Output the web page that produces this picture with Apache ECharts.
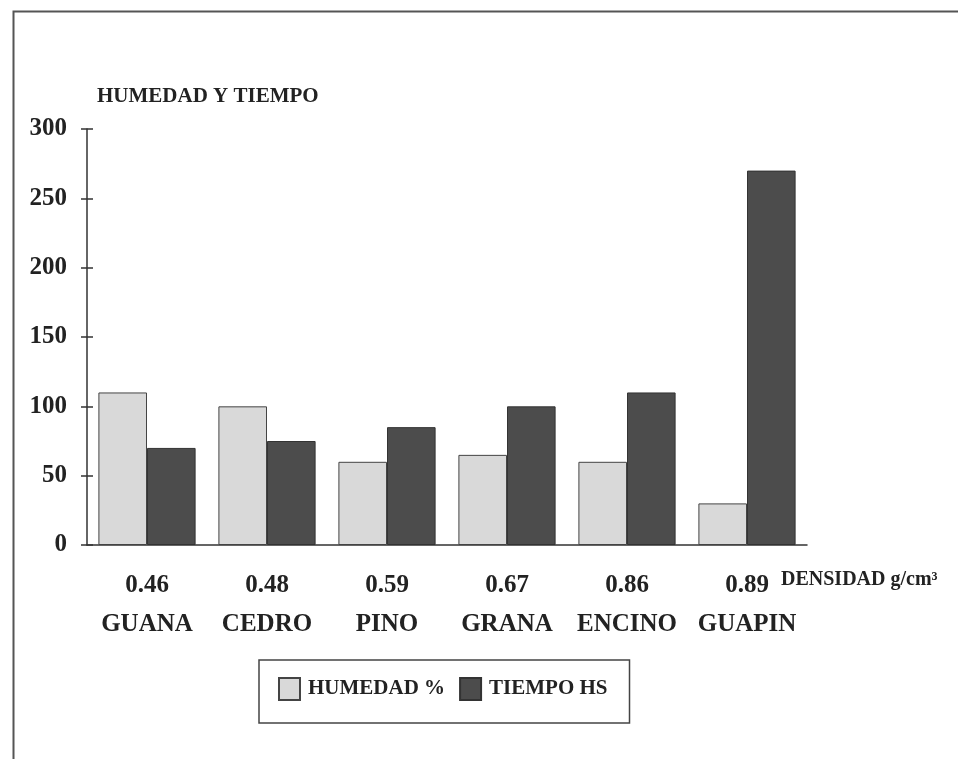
<!DOCTYPE html>
<html>
<head>
<meta charset="utf-8">
<script src="https://cdn.jsdelivr.net/npm/echarts@6/dist/echarts.min.js"></script>
<style>html,body{margin:0;padding:0;background:#fff;}#c{width:958px;height:759px;}</style>
</head>
<body>
<div id="c"></div>
<script>
const densities = ['0.46', '0.48', '0.59', '0.67', '0.86', '0.89'];
const species = ['GUANA', 'CEDRO', 'PINO', 'GRANA', 'ENCINO', 'GUAPIN'];
const humedad = [110, 100, 60, 65, 60, 30];
const tiempo = [70, 75, 85, 100, 110, 270];
const yTicks = [0, 50, 100, 150, 200, 250, 300];
const seriesNames = ['HUMEDAD %', 'TIEMPO HS'];
const yAxisTitle = 'HUMEDAD Y TIEMPO';
const xAxisTitle = 'DENSIDAD g/cm³';

const categories = densities.map((d, i) => d + '|' + species[i]);
const font = '"Liberation Serif", "Times New Roman", serif';

const chart = echarts.init(document.getElementById('c'), null, {renderer: 'canvas'});
const grid = {left: 87, right: 151, top: 129, bottom: 214};
chart.setOption({
  backgroundColor: '#ffffff',
  animation: false,
  textStyle: {fontFamily: font},
  grid: grid,
  legend: {
    left: 259, top: 660,
    padding: [17, 22, 22, 19],
    icon: 'rect',
    itemWidth: 21, itemHeight: 22, itemGap: 14,
    borderColor: '#444', borderWidth: 1.5,
    textStyle: {fontFamily: font, fontWeight: 'bold', fontSize: 21, color: '#222', padding: [2, 0, 0, 3]},
    data: seriesNames
  },
  xAxis: [{
    type: 'category',
    data: categories,
    axisLine: {lineStyle: {color: '#333', width: 1.5}},
    axisTick: {length: 6, lineStyle: {color: '#333', width: 1.5}},
    axisLabel: {
      interval: 0, margin: 22,
      formatter: v => { const p = v.split('|'); return '{a|' + p[0] + '}\n{b|' + p[1] + '}'; },
      rich: {
        a: {fontFamily: font, fontWeight: 'bold', fontSize: 25, color: '#222', lineHeight: 38},
        b: {fontFamily: font, fontWeight: 'bold', fontSize: 25, color: '#222', lineHeight: 40}
      }
    }
  }, {
    type: 'category', data: categories, position: 'bottom',
    axisLine: {show: false},
    axisTick: {inside: true, length: 6, lineStyle: {color: '#333', width: 1.5}},
    axisLabel: {show: false}
  }],
  yAxis: [{
    type: 'value', min: 0, max: 300, interval: 50,
    name: yAxisTitle, nameLocation: 'end', nameGap: 22,
    nameTextStyle: {fontFamily: font, fontWeight: 'bold', fontSize: 21, color: '#222', align: 'left', padding: [0, 0, 0, 10]},
    axisLine: {show: true, lineStyle: {color: '#333', width: 1.5}},
    axisTick: {show: true, length: 6, lineStyle: {color: '#333', width: 1.5}},
    splitLine: {show: false},
    axisLabel: {
      margin: 20, fontFamily: font, fontWeight: 'bold', fontSize: 25, color: '#222',
      formatter: v => yTicks.includes(v) ? String(v) : ''
    }
  }, {
    type: 'value', min: 0, max: 300, interval: 50, position: 'left',
    axisLine: {show: false},
    axisTick: {show: true, inside: true, length: 6, lineStyle: {color: '#333', width: 1.5}},
    splitLine: {show: false},
    axisLabel: {show: false}
  }],
  series: [{
    name: seriesNames[0], type: 'bar', data: humedad,
    barGap: '0%', barCategoryGap: '19%',
    itemStyle: {color: '#d9d9d9', borderColor: '#444', borderWidth: 1}
  }, {
    name: seriesNames[1], type: 'bar', data: tiempo,
    itemStyle: {color: '#4c4c4c', borderColor: '#333', borderWidth: 1}
  }],
  graphic: [{
    type: 'rect', left: 11, top: 9, silent: true,
    shape: {width: 960, height: 760},
    style: {fill: 'none', stroke: '#555', lineWidth: 2}
  }, {
    type: 'text', left: 781, top: 570,
    style: {text: xAxisTitle, fontFamily: font, fontWeight: 'bold', fontSize: 20, fill: '#222'}
  }]
});
</script>
</body>
</html>
